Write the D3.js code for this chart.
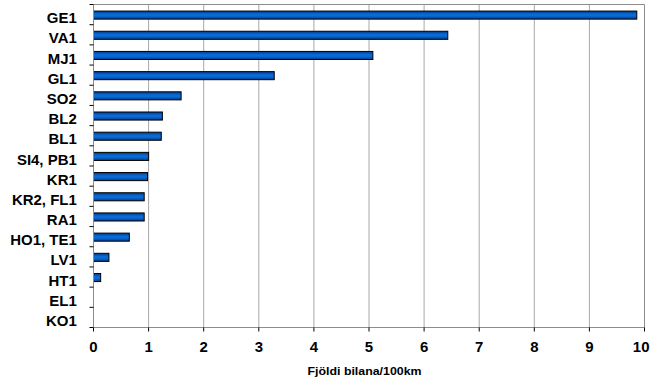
<!DOCTYPE html>
<html>
<head>
<meta charset="utf-8">
<script src="https://cdn.jsdelivr.net/npm/d3@7/dist/d3.min.js"></script>
<style>
  html, body { margin: 0; padding: 0; background: #fff; }
  svg { display: block; }
  text { font-family: "Liberation Sans", Arial, sans-serif; font-weight: bold; fill: #000; }
</style>
</head>
<body>
<svg id="chart" width="650" height="381"></svg>
<script>
// Number of cars per 100 km, by site
const categories = ["GE1", "VA1", "MJ1", "GL1", "SO2", "BL2", "BL1", "SI4, PB1", "KR1",
  "KR2, FL1", "RA1", "HO1, TE1", "LV1", "HT1", "EL1", "KO1"];
const values = [9.86, 6.43, 5.07, 3.28, 1.59, 1.25, 1.23, 1.00, 0.98,
  0.92, 0.92, 0.65, 0.28, 0.13, 0, 0];
const xTicks = [0, 1, 2, 3, 4, 5, 6, 7, 8, 9, 10];
const xTitle = "Fjöldi bilana/100km";

const svg = d3.select("#chart");
const plotLeft = 93.5, plotRight = 644.5, plotTop = 4.5, plotBottom = 327.5;
const stretch = 1.07; // slightly widened lettering

const x = d3.scaleLinear().domain([0, 10]).range([plotLeft, plotRight]);
const y = d3.scaleBand().domain(categories).range([plotTop, plotBottom]).padding(0);

// bar gradient
const defs = svg.append("defs");
const grad = defs.append("linearGradient").attr("id", "barFill")
  .attr("x1", 0).attr("y1", 0).attr("x2", 0).attr("y2", 1);
grad.append("stop").attr("offset", "0%").attr("stop-color", "#003c8a");
grad.append("stop").attr("offset", "40%").attr("stop-color", "#0a6ad6");
grad.append("stop").attr("offset", "60%").attr("stop-color", "#0a6ad6");
grad.append("stop").attr("offset", "100%").attr("stop-color", "#003c8a");

// vertical gridlines
svg.append("g").selectAll("line")
  .data(xTicks.filter(d => d > 0 && d < 10))
  .join("line")
  .attr("x1", d => x(d)).attr("x2", d => x(d))
  .attr("y1", plotTop).attr("y2", plotBottom)
  .attr("stroke", "#a8a8a8").attr("stroke-width", 1);

// frame: top and right edges
svg.append("path")
  .attr("d", `M${plotLeft},${plotTop}H${plotRight}V${plotBottom}`)
  .attr("fill", "none").attr("stroke", "#8c8c8c").attr("stroke-width", 1);

// bars
const bh = y.bandwidth() * 0.4;
svg.append("g").selectAll("rect")
  .data(values.map((v, i) => ({ c: categories[i], v })).filter(d => d.v > 0))
  .join("rect")
  .attr("x", x(0))
  .attr("y", d => y(d.c) + (y.bandwidth() - bh) / 2 + 0.5)
  .attr("width", d => x(d.v) - x(0))
  .attr("height", bh)
  .attr("fill", "url(#barFill)")
  .attr("stroke", "#000").attr("stroke-width", 1);

// y axis
svg.append("line")
  .attr("x1", plotLeft).attr("x2", plotLeft).attr("y1", plotTop).attr("y2", plotBottom)
  .attr("stroke", "#8c8c8c");
const yTicks = categories.map(c => y(c)).concat([plotBottom]);
svg.append("g").selectAll("line").data(yTicks).join("line")
  .attr("x1", plotLeft - 4).attr("x2", plotLeft).attr("y1", d => d).attr("y2", d => d)
  .attr("stroke", "#000");
svg.append("g").selectAll("text").data(categories).join("text")
  .attr("transform", d => `translate(76.8,${y(d) + y.bandwidth() / 2 + 8.6}) scale(${stretch},1)`)
  .attr("text-anchor", "end")
  .attr("font-size", "14px")
  .text(d => d);

// x axis
svg.append("line")
  .attr("x1", plotLeft).attr("x2", plotRight).attr("y1", plotBottom).attr("y2", plotBottom)
  .attr("stroke", "#8c8c8c");
svg.append("g").selectAll("line").data(xTicks).join("line")
  .attr("x1", d => x(d)).attr("x2", d => x(d)).attr("y1", plotBottom).attr("y2", plotBottom + 4)
  .attr("stroke", "#000");
svg.append("g").selectAll("text").data(xTicks).join("text")
  .attr("transform", (d, i) => i === xTicks.length - 1
    ? `translate(649.5,352) scale(${stretch},1)`
    : `translate(${x(d)},352) scale(${stretch},1)`)
  .attr("text-anchor", (d, i) => i === xTicks.length - 1 ? "end" : "middle")
  .attr("font-size", "14px")
  .text(d => d);

svg.append("text")
  .attr("x", 364.5).attr("y", 375)
  .attr("text-anchor", "middle")
  .attr("font-size", "11px")
  .attr("textLength", 114)
  .attr("lengthAdjust", "spacingAndGlyphs")
  .text(xTitle);
</script>
</body>
</html>
